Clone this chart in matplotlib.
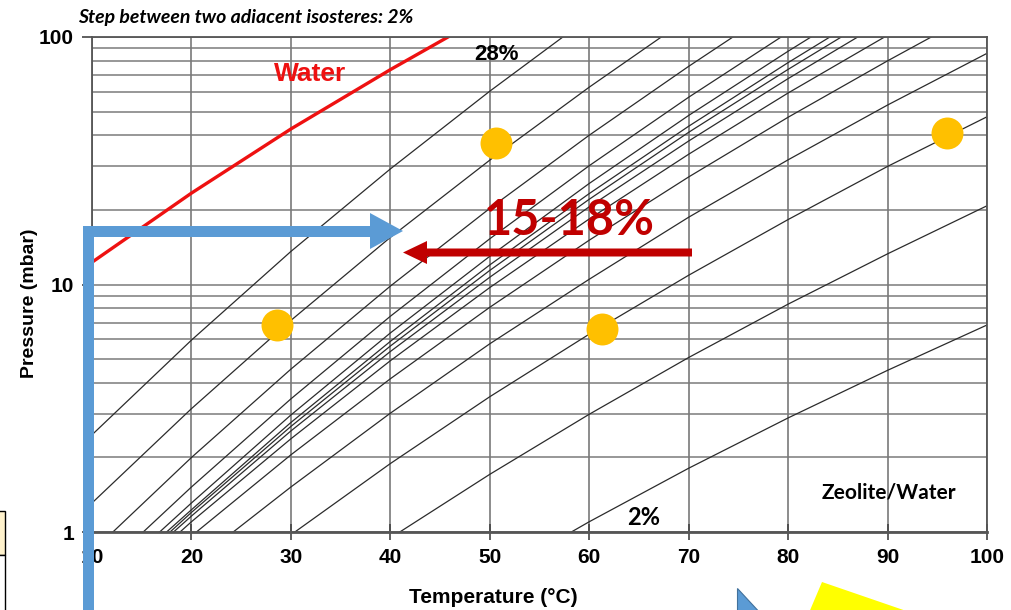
import matplotlib.pyplot as plt
from matplotlib.patches import Polygon, Rectangle

# isosteres, 2% .. 28% loading (temperature [C], pressure [mbar])
loadings = [2, 4, 6, 8, 10, 12, 14, 16, 18, 20, 22, 24, 26, 28]
iso_T = [
    [58.2, 60, 70, 80, 90, 100],
    [40.95, 50, 60, 70, 80, 90, 100],
    [30.4, 40, 50, 60, 70, 80, 90, 100],
    [24.2, 30, 40, 50, 60, 70, 80, 90, 100],
    [20.5, 30, 40, 50, 60, 70, 80, 90, 94.4],
    [18.85, 20, 30, 40, 50, 60, 70, 80, 89.7],
    [18.2, 20, 30, 40, 50, 60, 70, 80, 87.0],
    [17.85, 20, 30, 40, 50, 60, 70, 80, 85.35],
    [17.5, 20, 30, 40, 50, 60, 70, 80, 84.2],
    [16.8, 20, 30, 40, 50, 60, 70, 80, 82.3],
    [15.15, 20, 30, 40, 50, 60, 70, 79.3],
    [12.1, 20, 30, 40, 50, 60, 70, 74.45],
    [10, 20, 30, 40, 50, 60, 67.25],
    [10, 20, 30, 40, 50, 57.35],
]
iso_p = [
    [1.0, 1.10, 1.81, 2.89, 4.50, 6.86],
    [1.0, 1.71, 2.99, 5.07, 8.33, 13.3, 20.8],
    [1.0, 1.89, 3.52, 6.30, 10.9, 18.3, 30.0, 47.6],
    [1.0, 1.52, 3.02, 5.76, 10.5, 18.7, 31.9, 53.1, 85.9],
    [1.0, 2.05, 4.16, 8.09, 15.1, 27.2, 47.4, 80.1, 100],
    [1.0, 1.10, 2.38, 4.92, 9.72, 18.4, 33.6, 59.4, 100],
    [1.0, 1.16, 2.56, 5.36, 10.7, 20.6, 38.0, 67.9, 100],
    [1.0, 1.20, 2.67, 5.64, 11.4, 22.1, 41.2, 74.0, 100],
    [1.0, 1.23, 2.77, 5.89, 12.0, 23.3, 43.6, 78.8, 100],
    [1.0, 1.31, 2.97, 6.37, 13.0, 25.6, 48.2, 87.6, 100],
    [1.0, 1.52, 3.45, 7.44, 15.3, 30.2, 57.1, 100],
    [1.0, 2.00, 4.55, 9.85, 20.3, 40.1, 76.1, 100],
    [1.31, 3.15, 7.16, 15.5, 31.8, 62.7, 100],
    [2.47, 5.96, 13.6, 29.3, 60.4, 100],
]

# saturation curve of water
water_T = [10, 20, 30, 40, 45.8]
water_p = [12.3, 23.4, 42.5, 73.8, 100]

# operating points
dot_T = [28.6, 50.6, 61.3, 96.0]
dot_p = [6.84, 37.3, 6.61, 41.1]

x_ticks = [10, 20, 30, 40, 50, 60, 70, 80, 90, 100]
y_ticks = [1, 10, 100]

fig = plt.figure(figsize=(10.12, 6.10), dpi=100)
ax = fig.add_axes([92 / 1012, 1 - 532 / 610, 895 / 1012, 495 / 610])
ax.set_yscale('log')
ax.set_xlim(10, 100)
ax.set_ylim(1, 100)

# grid
ax.set_xticks(x_ticks)
ax.set_yticks(y_ticks)
ax.set_yticklabels([str(v) for v in y_ticks])
ax.grid(axis='x', which='major', color='#6e6e6e', lw=1.1)
ax.grid(axis='y', which='both', color='#7a7a7a', lw=1.1)
ax.tick_params(axis='y', which='minor', length=0, labelleft=False)
ax.tick_params(axis='y', which='major', direction='out', length=7, width=1.2,
               color='#444444', pad=6)
ax.tick_params(axis='x', which='major', direction='inout', length=11, width=1.2,
               color='#444444', pad=6)
for lab in ax.get_xticklabels() + ax.get_yticklabels():
    lab.set_fontfamily('Liberation Sans')
    lab.set_fontweight('bold')
    lab.set_fontsize(15)
for s in ax.spines.values():
    s.set_color('#555555')
    s.set_linewidth(1.3)
ax.spines['bottom'].set_linewidth(2)

# isosteres
for T, p in zip(iso_T, iso_p):
    ax.plot(T, p, color='#2b2b2b', lw=0.9)

ax.plot(water_T, water_p, color='#ee1111', lw=2.4)

ax.plot(dot_T, dot_p, 'o', color='#FFC000', ms=23, mec='none', zorder=5, clip_on=False)

# labels
ax.text(31.9, 71, 'Water', color='#ee1111', fontsize=19, fontweight='bold',
        family='Liberation Sans', ha='center', va='center')
ax.text(50.7, 84.6, '28%', color='black', fontsize=16, fontweight='bold',
        family='Liberation Sans', ha='center', va='center')
ax.text(65.5, 1.14, '2%', color='black', fontsize=17, fontweight='bold',
        family='Lato', ha='center', va='center')
ax.text(90.1, 1.45, 'Zeolite/Water', color='black', fontsize=15, fontweight='bold',
        family='Lato', ha='center', va='center')
ax.text(58.0, 18.2, '15-18%', color='#C00000', fontsize=35, fontweight='bold',
        family='Lato', ha='center', va='center', zorder=6)

ax.set_xlabel('Temperature (°C)', fontsize=15, fontweight='bold',
              family='Liberation Sans')
ax.xaxis.set_label_coords(0.448, -0.113)
ax.set_ylabel('Pressure (mbar)', fontsize=14, fontweight='bold',
              family='Liberation Sans')
ax.yaxis.set_label_coords(-0.060, 0.463)

fig.text(78 / 1012, 1 - 17 / 610, 'Step between two adiacent isosteres: 2%',
         fontsize=14, fontweight='bold', style='italic', family='Lato',
         ha='left', va='center')

# overlay in pixel units for the arrows and cut-off shapes
ov = fig.add_axes([0, 0, 1, 1], zorder=10)
ov.set_xlim(0, 1012)
ov.set_ylim(610, 0)
ov.axis('off')
ov.patch.set_visible(False)

blue = [(83, 615), (83, 226), (370, 226), (370, 213), (403, 231), (370, 249),
        (370, 237), (94, 237), (94, 615)]
ov.add_patch(Polygon(blue, closed=True, fc='#5B9BD5', ec='none'))
red = [(692, 248.5), (427, 248.5), (427, 241), (403, 252.5), (427, 264),
       (427, 256.5), (692, 256.5)]
ov.add_patch(Polygon(red, closed=True, fc='#C00000', ec='none'))

ov.add_patch(Polygon([(737, 588), (737, 615), (762, 615)], closed=True,
                     fc='#5B9BD5', ec='#41719C', lw=0.8))
ov.add_patch(Polygon([(822, 582), (808, 615), (918, 615)], closed=True,
                     fc='#FFFF00', ec='none'))
ov.add_patch(Rectangle((-10, 511), 15, 43.5, fc='#FFF2CC', ec='black', lw=1))
ov.add_patch(Rectangle((-10, 554.5), 15, 70, fc='white', ec='black', lw=1))

fig.savefig('out.png', dpi=100)
